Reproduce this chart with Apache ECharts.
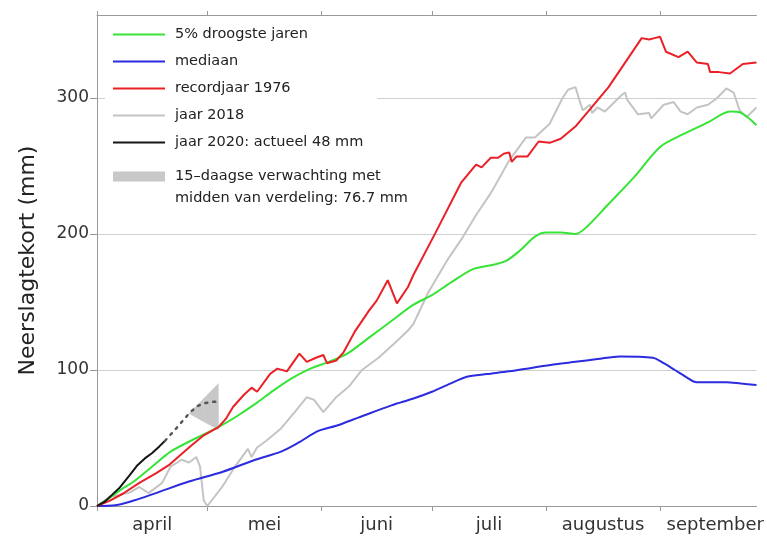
<!DOCTYPE html>
<html>
<head>
<meta charset="utf-8">
<script src="https://cdn.jsdelivr.net/npm/echarts@6/dist/echarts.min.js"></script>
<style>
  html, body { margin: 0; padding: 0; background: #fff; }
  #neerslagtekort { width: 767px; height: 539px; }
</style>
</head>
<body>
<div id="neerslagtekort"></div>
<script>
// dagen vanaf 1 april, waarden in mm
const maandStart = [0, 30, 61, 91, 122, 153]
const maandMidden = [15, 45.5, 76, 106.5, 137.5, 168]
const maandNamen = ['april', 'mei', 'juni', 'juli', 'augustus', 'september']
const yTicks = [0, 100, 200, 300]

const droogste = [
  [0, 0], [3, 5], [7, 13], [10, 18], [15, 29], [20, 40], [27, 50], [33, 58],
  [38, 66], [43.5, 76], [48, 85], [53, 94], [58, 101], [63, 106], [68, 112],
  [74, 124], [80, 136], [86, 148], [91, 155], [96, 164], [102, 174], [107, 177],
  [111, 180], [115, 188], [119, 198], [122, 201], [126, 201], [130, 200],
  [133, 205], [139, 222], [146, 242], [153, 264], [159, 273], [166, 282],
  [172, 290], [175, 289], [179.2, 280]
]
const mediaan = [
  [0, 0], [5, 0.5], [10, 4], [16, 9.5], [25, 18], [34, 25], [43, 34], [50, 40],
  [55, 47], [60, 55], [65, 59], [71, 65], [80, 74], [86, 79], [91, 84], [96, 90],
  [100.5, 95], [106, 97], [112, 99], [118, 101.5], [124, 104], [130, 106],
  [136, 108], [142, 110], [151, 109], [154, 105], [157, 100], [160, 95],
  [163, 91], [167, 91], [171, 91], [175, 90], [179.2, 89]
]
const record1976 = [
  [0, 0], [3.5, 4], [7, 9], [11.5, 17], [16, 24], [19.5, 30], [25, 43], [29, 52],
  [33, 58], [35, 64], [37, 73], [40, 82], [42, 87], [43.5, 84], [47, 97],
  [49, 101], [51.6, 99], [55, 112], [57, 106], [59.5, 109], [61.5, 111],
  [62.5, 105], [65, 107], [67, 113], [70, 128], [74, 144], [76, 151], [79, 166],
  [81.5, 149], [84.5, 161], [86, 170], [92, 201], [99, 238], [103, 251],
  [104.5, 249], [107, 256], [109, 256], [110.5, 259], [112, 260], [112.7, 253],
  [114, 257], [117, 257], [120, 268], [123, 267], [126, 270], [130, 279],
  [139, 308], [148, 344], [150, 343], [151.5, 344], [153, 345], [154.6, 334],
  [158, 330], [160.5, 334], [163, 326], [166, 325], [166.6, 319], [169, 319],
  [172, 318], [175.5, 325], [179.2, 326]
]
const jaar2018 = [
  [0, 0], [3.5, 7], [6, 8], [9, 10], [11.5, 14], [14, 9.5], [17.7, 17], [20, 29],
  [23, 34], [25, 32], [27, 36], [28, 29], [29, 4], [30, 0], [34, 14], [37.5, 29],
  [41, 42], [42, 36], [43.5, 43], [46, 48], [50, 57], [54, 70], [57, 80],
  [59, 78], [61.5, 69], [65, 80], [68.5, 88], [72, 100], [76.5, 109], [81, 120],
  [84.5, 129], [86, 134], [90, 157], [95, 180], [99, 196], [103, 214],
  [107, 230], [112, 254], [116.6, 271], [119, 271], [123, 281], [126.5, 300],
  [128, 306], [130, 308], [131, 299], [132, 291], [134, 295], [134.5, 289],
  [136, 293], [138, 290], [142.5, 302], [143.5, 304], [144, 299], [147, 288],
  [150, 289], [150.6, 285], [154, 295], [156.7, 297], [158.6, 290],
  [160.5, 288], [163, 293], [166, 295], [168.5, 300], [171, 307], [173, 304],
  [174.6, 291], [176.5, 286], [179.2, 293]
]
const jaar2020 = [
  [0, 0], [2, 3], [4, 8], [6, 13], [9, 23], [11, 30], [13, 35], [15, 39],
  [17, 44], [18.5, 48]
]
// 15-daagse verwachting
const verwachtingMidden = [
  [18.5, 48], [21.5, 57], [25, 68], [27, 73], [29, 75.5], [31, 76.5], [33, 76.7]
]
const verwachtingDag = [25, 29, 33]
const verwachtingLaag = [68, 62, 56]
const verwachtingHoog = [68, 79, 90]

const fontFamily = 'DejaVu Sans'
const bandKleur = '#c8c8c8'
const chart = echarts.init(document.getElementById('neerslagtekort'))

const lineSeries = (name, data, color, extra) =>
  Object.assign(
    {
      name,
      type: 'line',
      data,
      symbol: 'none',
      lineStyle: { color, width: 2 },
      itemStyle: { color },
    },
    extra || {}
  )

const legendText = { fontSize: 14.5, lineHeight: 21, color: '#222', padding: [0, 0, 0, 5] }

const option = {
  animation: false,
  textStyle: { fontFamily },
  grid: { left: 97, top: 15, right: 0, bottom: 33, containLabel: false },
  legend: [
    {
      orient: 'vertical',
      left: 105,
      top: 20,
      padding: [4, 14, 4, 8],
      itemGap: 6,
      itemWidth: 52,
      itemHeight: 2,
      icon: 'rect',
      backgroundColor: '#fff',
      textStyle: legendText,
      data: ['5% droogste jaren', 'mediaan', 'recordjaar 1976', 'jaar 2018', 'jaar 2020: actueel 48 mm'],
    },
    {
      orient: 'vertical',
      left: 105,
      top: 166,
      padding: [0, 8, 0, 8],
      itemWidth: 52,
      itemHeight: 10,
      icon: 'rect',
      itemStyle: { color: bandKleur },
      textStyle: legendText,
      data: ['15–daagse verwachting met'],
    },
  ],
  graphic: [
    {
      type: 'text',
      left: 175,
      top: 191,
      style: {
        text: 'midden van verdeling: 76.7 mm',
        font: '14.5px "DejaVu Sans"',
        fill: '#222',
      },
    },
  ],
  xAxis: [
    {
      type: 'value',
      position: 'bottom',
      min: 0,
      max: 179.2,
      axisLine: { lineStyle: { color: '#999' } },
      axisTick: { customValues: maandStart, length: 5, lineStyle: { color: '#999' } },
      axisLabel: {
        customValues: maandMidden,
        fontSize: 18,
        color: '#333',
        margin: 10,
        formatter: (v) => maandNamen[maandMidden.indexOf(v)] || '',
      },
      splitLine: { show: false },
    },
    {
      type: 'value',
      position: 'top',
      min: 0,
      max: 179.2,
      axisLine: { lineStyle: { color: '#999' } },
      axisTick: { customValues: maandStart, length: 4, lineStyle: { color: '#999' } },
      axisLabel: { show: false },
      splitLine: { show: false },
    },
  ],
  yAxis: {
    type: 'value',
    min: 0,
    max: 361,
    interval: 100,
    name: 'Neerslagtekort (mm)',
    nameLocation: 'middle',
    nameGap: 58,
    nameTextStyle: { fontSize: 22, color: '#222' },
    axisLine: { show: true, lineStyle: { color: '#999' } },
    axisTick: { customValues: yTicks, length: 7, lineStyle: { color: '#999' } },
    axisLabel: {
      customValues: yTicks,
      fontSize: 17,
      color: '#333',
      margin: 8,
    },
    splitLine: { lineStyle: { color: '#cfcfcf', width: 1 } },
  },
  series: [
    {
      // spreiding van de verwachting als waaier
      name: '15–daagse verwachting met',
      type: 'custom',
      data: verwachtingDag.map((d, i) => [d, verwachtingLaag[i], verwachtingHoog[i]]),
      encode: { x: 0, y: [1, 2] },
      itemStyle: { color: bandKleur },
      silent: true,
      renderItem: (params, api) => {
        const i = params.dataIndex
        if (i >= verwachtingDag.length - 1) return null
        const points = [
          api.coord([verwachtingDag[i], verwachtingLaag[i]]),
          api.coord([verwachtingDag[i + 1], verwachtingLaag[i + 1]]),
          api.coord([verwachtingDag[i + 1], verwachtingHoog[i + 1]]),
          api.coord([verwachtingDag[i], verwachtingHoog[i]]),
        ]
        return {
          type: 'polygon',
          shape: { points },
          style: { fill: bandKleur, stroke: bandKleur, lineWidth: 0.5 },
        }
      },
    },
    lineSeries('jaar 2018', jaar2018, '#c4c4c4'),
    lineSeries('mediaan', mediaan, '#2b2bdf', { smooth: 0.3 }),
    lineSeries('5% droogste jaren', droogste, '#36e436', { smooth: 0.3 }),
    lineSeries('recordjaar 1976', record1976, '#ea2027'),
    lineSeries('jaar 2020: actueel 48 mm', jaar2020, '#151515'),
    {
      name: 'verwachtingMidden',
      type: 'line',
      data: verwachtingMidden,
      symbol: 'none',
      lineStyle: { color: '#555', width: 2.5, type: [2, 6], cap: 'round' },
      silent: true,
    },
  ],
}

chart.setOption(option)
</script>
</body>
</html>
